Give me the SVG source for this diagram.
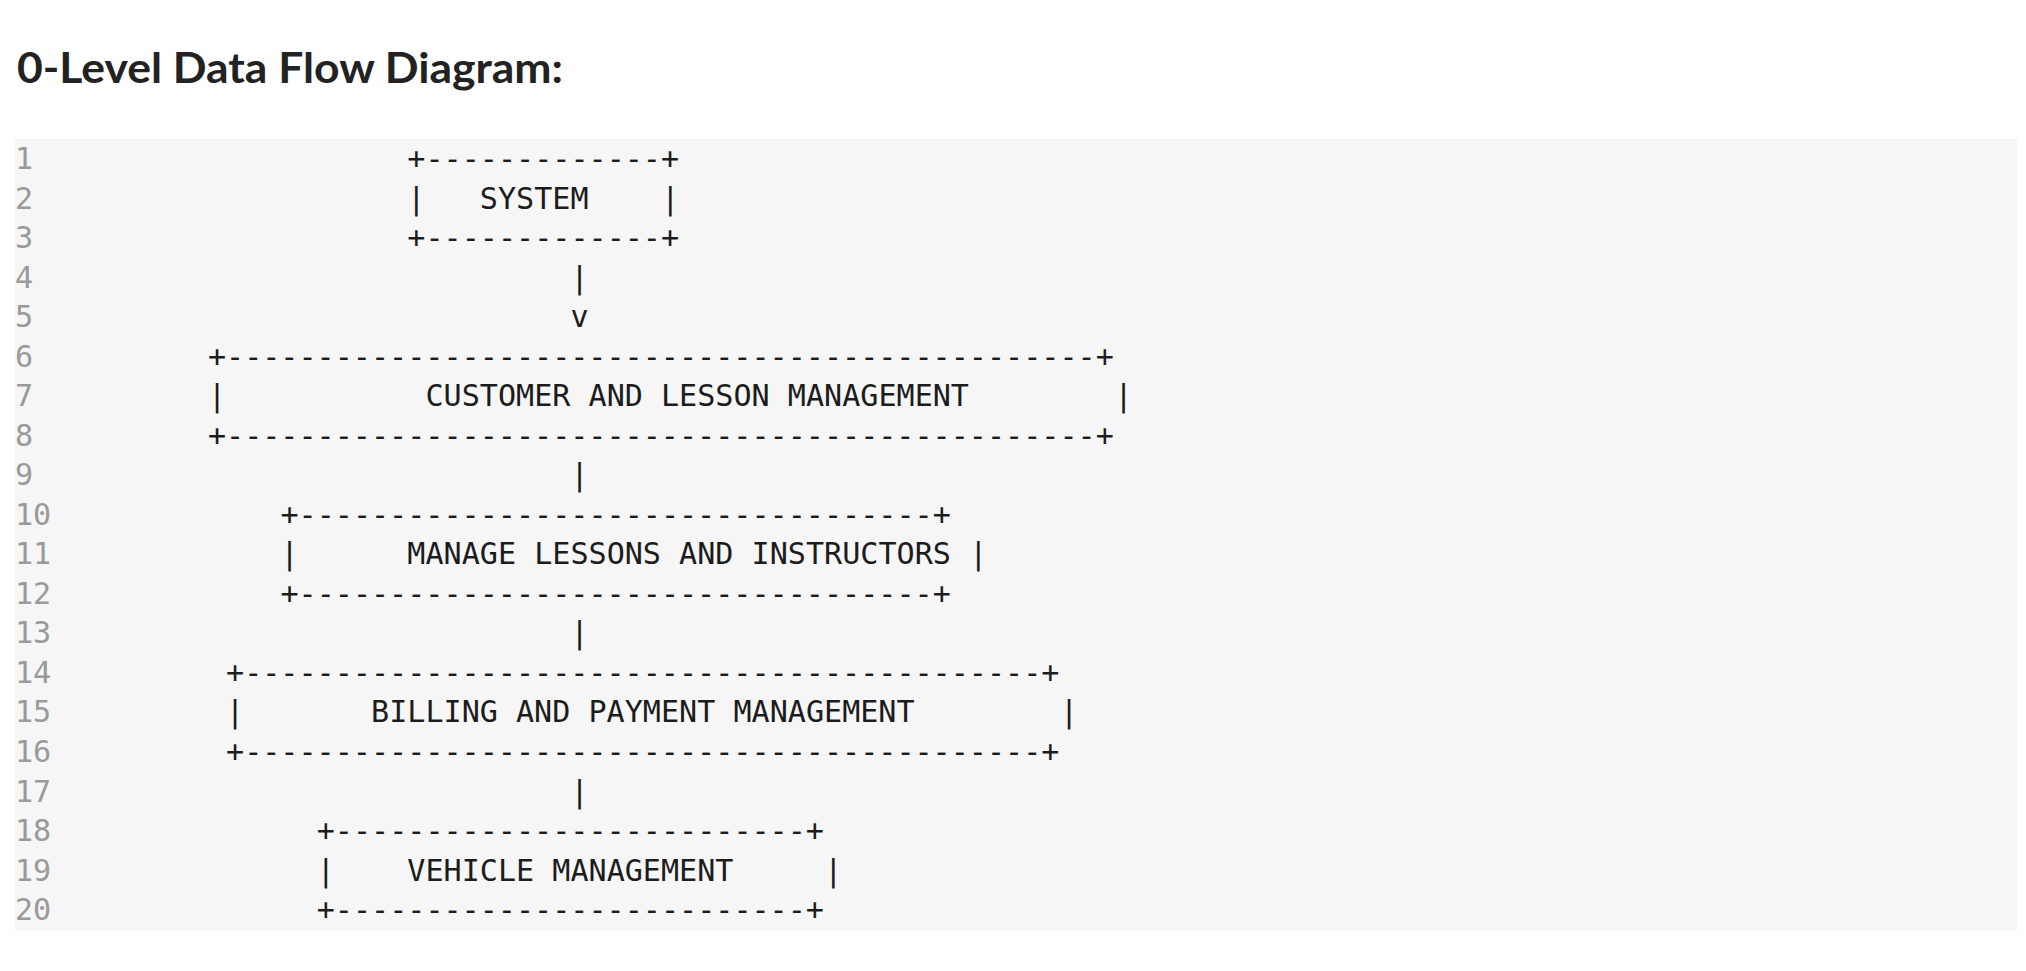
<svg xmlns="http://www.w3.org/2000/svg" width="2026" height="971" viewBox="0 0 2026 971">
<style>
.title{font-family:Lato,"Open Sans","Liberation Sans",sans-serif;font-weight:700;font-size:42px;fill:#222222}
.code{font-family:"DejaVu Sans Mono","Liberation Mono",monospace;font-size:30.1px;fill:#1c1c1c}
.ln{font-family:"DejaVu Sans Mono","Liberation Mono",monospace;font-size:30.1px;fill:#9a9a9a}
</style>
<rect x="0" y="0" width="2026" height="971" fill="#ffffff"/>
<text class="title" x="17" y="83" textLength="546" lengthAdjust="spacingAndGlyphs">0-Level Data Flow Diagram:</text>
<rect x="15" y="139" width="2002" height="792" fill="#f6f6f6"/>
<g id="line-numbers" class="ln">
<text x="15" y="169">1</text>
<text x="15" y="208.5">2</text>
<text x="15" y="248.1">3</text>
<text x="15" y="287.6">4</text>
<text x="15" y="327.1">5</text>
<text x="15" y="366.7">6</text>
<text x="15" y="406.2">7</text>
<text x="15" y="445.7">8</text>
<text x="15" y="485.2">9</text>
<text x="15" y="524.8">10</text>
<text x="15" y="564.3">11</text>
<text x="15" y="603.8">12</text>
<text x="15" y="643.4">13</text>
<text x="15" y="682.9">14</text>
<text x="15" y="722.4">15</text>
<text x="15" y="761.9">16</text>
<text x="15" y="801.5">17</text>
<text x="15" y="841">18</text>
<text x="15" y="880.5">19</text>
<text x="15" y="920.1">20</text>
</g>
<g id="node-system" class="code">
<text x="407.33" y="169">+-------------+</text>
<text x="407.33" y="208.5">|</text>
<text x="479.85" y="208.5">SYSTEM</text>
<text x="661.15" y="208.5">|</text>
<text x="407.33" y="248.1">+-------------+</text>
</g>
<g id="node-customer-lesson" class="code">
<text x="207.9" y="366.7">+------------------------------------------------+</text>
<text x="207.9" y="406.2">|</text>
<text x="425.46" y="406.2">CUSTOMER AND LESSON MANAGEMENT</text>
<text x="1114.4" y="406.2">|</text>
<text x="207.9" y="445.7">+------------------------------------------------+</text>
</g>
<g id="node-manage-lessons" class="code">
<text x="280.42" y="524.8">+-----------------------------------+</text>
<text x="280.42" y="564.3">|</text>
<text x="407.33" y="564.3">MANAGE LESSONS AND INSTRUCTORS</text>
<text x="969.36" y="564.3">|</text>
<text x="280.42" y="603.8">+-----------------------------------+</text>
</g>
<g id="node-billing" class="code">
<text x="226.03" y="682.9">+--------------------------------------------+</text>
<text x="226.03" y="722.4">|</text>
<text x="371.07" y="722.4">BILLING AND PAYMENT MANAGEMENT</text>
<text x="1060.01" y="722.4">|</text>
<text x="226.03" y="761.9">+--------------------------------------------+</text>
</g>
<g id="node-vehicle" class="code">
<text x="316.68" y="841">+--------------------------+</text>
<text x="316.68" y="880.5">|</text>
<text x="407.33" y="880.5">VEHICLE MANAGEMENT</text>
<text x="824.32" y="880.5">|</text>
<text x="316.68" y="920.1">+--------------------------+</text>
</g>
<g id="connectors" class="code">
<text x="570.5" y="287.6">|</text>
<text x="570.5" y="327.1">v</text>
<text x="570.5" y="485.2">|</text>
<text x="570.5" y="643.4">|</text>
<text x="570.5" y="801.5">|</text>
</g>
</svg>
